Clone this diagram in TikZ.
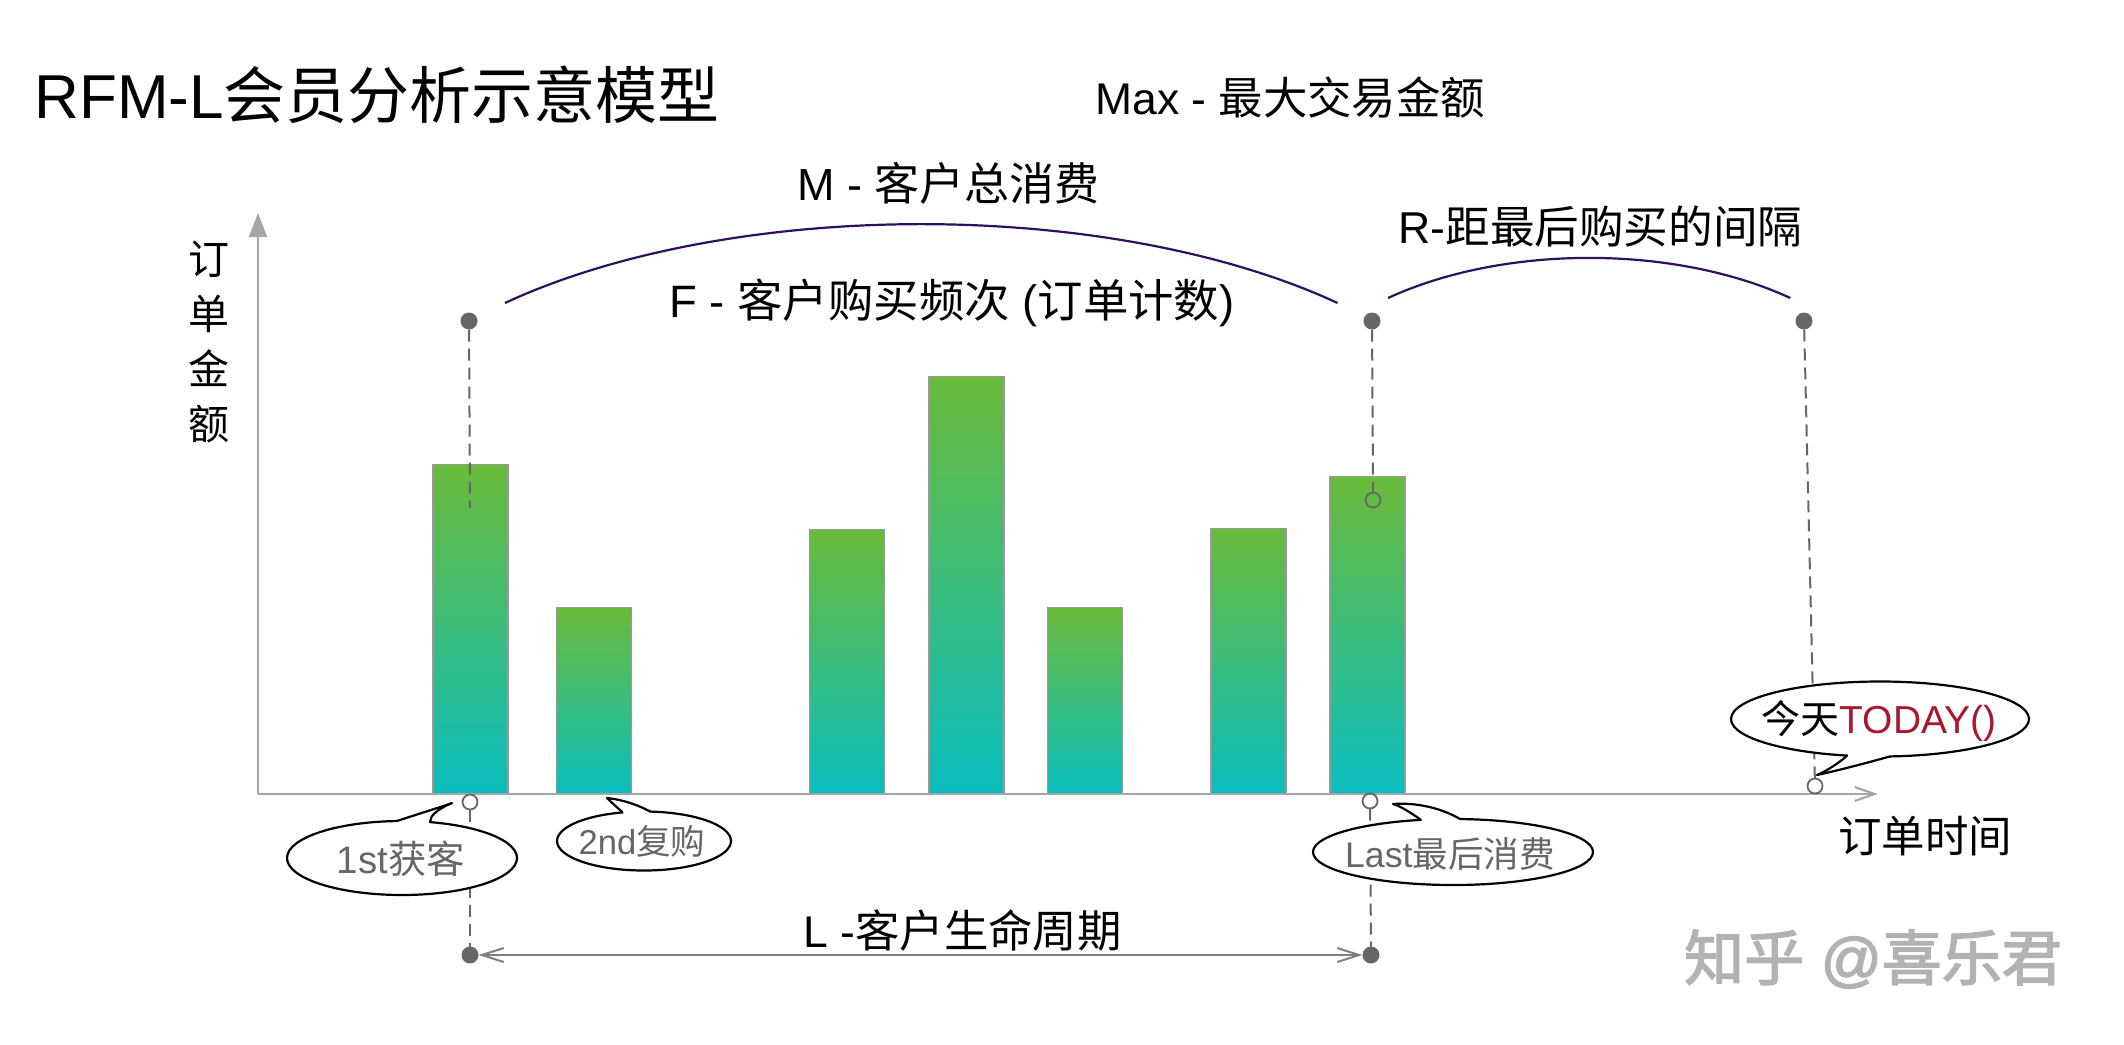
\documentclass[tikz,border=0pt]{standalone}
\usepackage{fontspec}
\setmainfont{Liberation Sans}
\newfontfamily\cjk{Noto Sans CJK SC}
\newfontfamily\wmcjk[FakeBold=2.5]{Noto Sans CJK SC}
\newfontfamily\wmlat[FakeBold=2.5]{Liberation Sans}
\usetikzlibrary{arrows.meta,calc,shapes.geometric}
\definecolor{arcc}{RGB}{44,18,94}
\definecolor{axisc}{RGB}{166,166,166}
\definecolor{dotc}{RGB}{102,102,102}
\definecolor{barTop}{RGB}{106,187,58}
\definecolor{barBot}{RGB}{10,190,190}
\definecolor{bubtext}{RGB}{102,102,102}
\definecolor{todayred}{RGB}{166,25,46}
\definecolor{wmc}{RGB}{178,178,178}
\newcommand\zh[1]{{\cjk #1}}
\newcommand\bubtail[8]{%
  \fill[white] ($(#1.center)!0.75!(#1.#2)$) -- (#1.#2) .. controls #3 and #4 .. (#5) .. controls #6 and #7 .. (#1.#8) -- ($(#1.center)!0.75!(#1.#8)$) -- cycle;
  \draw[tailline] (#1.#2) .. controls #3 and #4 .. (#5) .. controls #6 and #7 .. (#1.#8);}
\begin{document}
\begin{tikzpicture}[x=0.5pt,y=-0.5pt,
  bar/.style={draw=black!40, line width=0.7pt, top color=barTop, bottom color=barBot, minimum width=37.5pt, anchor=south, inner sep=0pt},
  dot/.style={circle, fill=dotc, minimum size=8.5pt, inner sep=0pt, outer sep=0pt},
  ring/.style={circle, draw=dotc, line width=0.9pt, minimum size=7.5pt, inner sep=0pt, outer sep=0pt},
  dashline/.style={draw=dotc, line width=1pt, dash pattern=on 6pt off 3.5pt},
  axisline/.style={draw=axisc, line width=1.1pt},
  bracket/.style={draw=arcc, line width=1.1pt},
  bubble/.style={ellipse, draw=black, line width=1.1pt, fill=white, inner sep=0pt, outer sep=0pt},
  tailline/.style={draw=black, line width=1.1pt, line cap=round, line join=round},
  lbl/.style={inner sep=0pt, text=black},
  bubtxt/.style={inner sep=0pt, text=bubtext}]
\path[use as bounding box, fill=white] (0,0) rectangle (2124,1044);

% bars
\node[bar, minimum height=164.5pt] (bar1) at (470.5,794) {};
\node[bar, minimum height=93pt]    (bar2) at (594,794) {};
\node[bar, minimum height=132pt]   (bar3) at (847,794) {};
\node[bar, minimum height=208.5pt] (bar4) at (966.5,794) {};
\node[bar, minimum height=93pt]    (bar5) at (1085,794) {};
\node[bar, minimum height=132.5pt] (bar6) at (1248.5,794) {};
\node[bar, minimum height=158.5pt] (bar7) at (1367.5,794) {};

% axes
\coordinate (origin) at (258,794);
\coordinate (ytip) at (258,213);
\coordinate (xtip) at (1878,794);
\draw[axisline, -{Triangle[length=12pt,width=9pt]}] (origin) -- (ytip);
\draw[axisline, -{Straight Barb[length=10pt,width=7pt]}] (origin) -- (xtip);

% brackets
\draw[bracket] (505,303) arc[start angle=136.7, end angle=43.3, x radius=286pt, y radius=125.5pt];
\draw[bracket] (1388,298) arc[start angle=130.3, end angle=49.7, x radius=155.5pt, y radius=84.5pt];

% dots and rings
\node[dot] (d1) at (469,321) {};
\node[dot] (d2) at (1372,321) {};
\node[dot] (d3) at (1804,321) {};
\node[dot] (dL1) at (470,955) {};
\node[dot] (dL2) at (1371,955) {};
\node[ring] (r1) at (470,802) {};
\node[ring] (r7) at (1370,801) {};
\node[ring] (rTop) at (1373,500) {};
\node[ring] (rToday) at (1815,786) {};
\coordinate (d1end) at (470,508);
\coordinate (d2end) at (1373,484);

\draw[dashline] (d1) -- (d1end);
\draw[dashline] (d2) -- (d2end);
\draw[draw=dotc, line width=1pt] (d2end) -- (rTop);
\draw[dashline] (d3) -- (rToday);
\draw[dashline] (r1) -- (dL1);
\draw[dashline] (r7) -- (dL2);
\draw[draw=black!50, line width=1pt, {Straight Barb[length=11pt,width=7pt]}-{Straight Barb[length=11pt,width=7pt]}] (dL1) -- (dL2);

% bubbles
\node[bubble, minimum width=115pt, minimum height=37pt] (b1) at (402,858) {};
\node[bubble, minimum width=87pt, minimum height=29.5pt] (b2) at (644,841) {};
\node[bubble, minimum width=140pt, minimum height=33pt] (b3) at (1453,852) {};
\node[bubble, minimum width=149pt, minimum height=37.5pt] (b4) at (1880,719) {};
\coordinate (t1) at (452,803);
\coordinate (t2) at (607,798);
\coordinate (t3) at (1393,804);
\coordinate (t4) at (1817,775);
\bubtail{b1}{98}{(418,814)}{(438,808)}{t1}{(436,810)}{(430,816)}{52}
\bubtail{b2}{127}{(618,808)}{(612,803)}{t2}{(625,800)}{(640,806)}{78}
\bubtail{b3}{135}{(1410,812)}{(1400,806)}{t3}{(1420,802)}{(1445,810)}{78}
\bubtail{b4}{228}{(1838,764)}{(1826,771)}{t4}{(1840,770)}{(1870,762)}{285}

% bubble texts
\node[bubtxt, anchor=base, font=\fontsize{19.2}{23}\selectfont] (b1t) at (401,873) {1st\zh{获客}};
\node[bubtxt, anchor=base, font=\fontsize{17.3}{21}\selectfont] (b2t) at (642,854) {2nd\zh{复购}};
\node[bubtxt, anchor=base, font=\fontsize{17.8}{21}\selectfont] (b3t) at (1450,867) {Last\zh{最后消费}};
\node[lbl, anchor=base, font=\fontsize{19.5}{23}\selectfont] (b4t) at (1879,733) {\zh{今天}\textcolor{todayred}{TODAY()}};

% labels
\node[lbl, anchor=base west, font=\fontsize{31}{37}\selectfont] (title) at (34,118) {RFM-L\zh{会员分析示意模型}};
\node[lbl, anchor=base west, font=\fontsize{22.2}{27}\selectfont] (maxlbl) at (1095,114) {Max - \zh{最大交易金额}};
\node[lbl, anchor=base west, font=\fontsize{22.5}{27}\selectfont] (mlbl) at (797,200) {M - \zh{客户总消费}};
\node[lbl, anchor=base west, font=\fontsize{22.3}{27}\selectfont] (rlbl) at (1398,243) {R-\zh{距最后购买的间隔}};
\node[lbl, anchor=base west, font=\fontsize{22.7}{27}\selectfont] (flbl) at (669,317) {F - \zh{客户购买频次} (\zh{订单计数})};
\node[lbl, anchor=base west, font=\fontsize{22.2}{27}\selectfont] (llbl) at (803,947) {L -\zh{客户生命周期}};
\node[lbl, font=\cjk\fontsize{21.75}{26}\selectfont] (xlbl) at (1925,836) {订单时间};
\node[lbl, align=center, font=\cjk\fontsize{20.5}{27.6}\selectfont] (ylbl) at (209,342) {订\\单\\金\\额};
\node[inner sep=0pt, text=wmc, font=\fontsize{30}{36}\selectfont] (wmk) at (1873,959) {{\wmcjk 知乎} {\wmlat @}{\wmcjk 喜乐君}};
\end{tikzpicture}
\end{document}
